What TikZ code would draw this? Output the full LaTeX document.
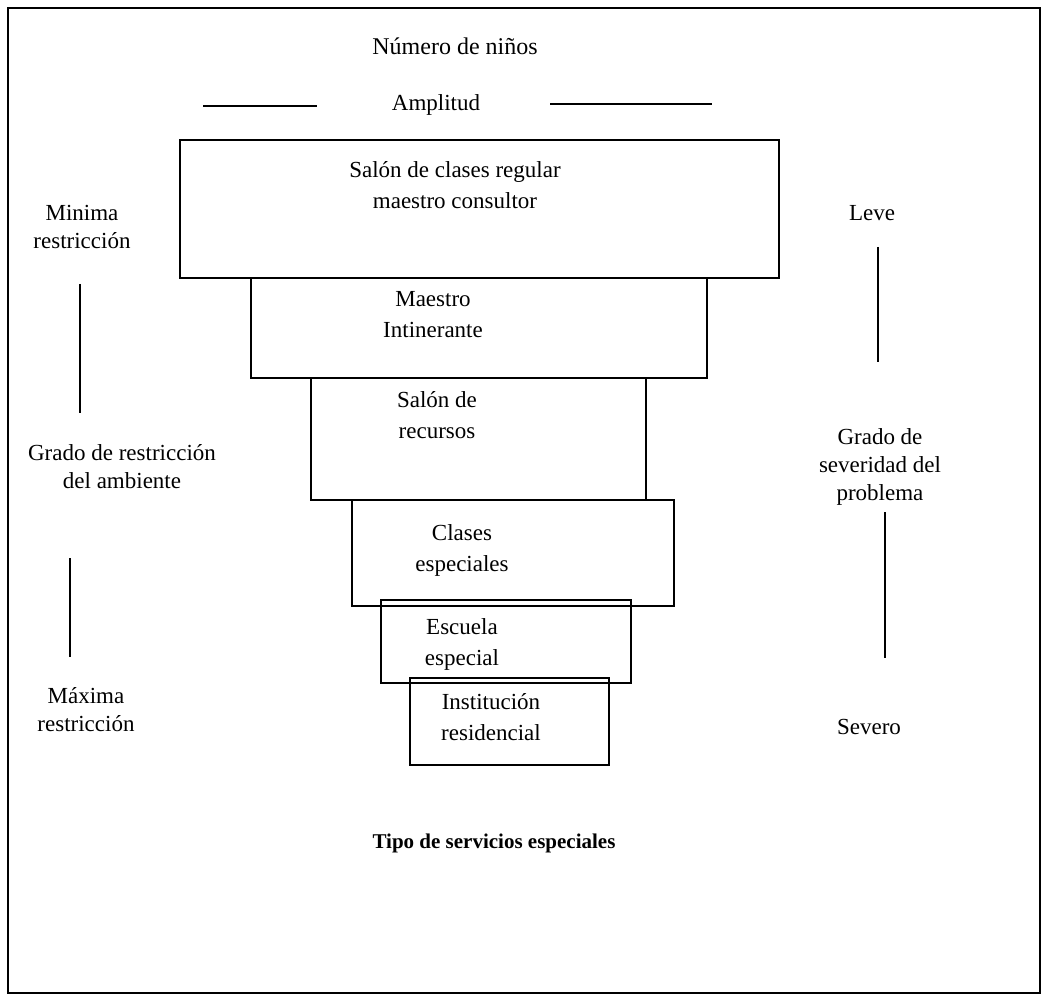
\documentclass[tikz,border=0pt]{standalone}
\usepackage{fontspec}
\setmainfont{Liberation Serif}
\begin{document}
\begin{tikzpicture}[x=1pt,y=-1pt,
  tier/.style={draw, line width=1.6pt, inner sep=0pt},
  boxtext/.style={align=center, inner sep=0pt, font=\fontsize{23}{31}\selectfont},
  sidetext/.style={align=center, inner sep=0pt, font=\fontsize{23}{28}\selectfont},
  rulestroke/.style={line width=1.6pt}]
\useasboundingbox (0,0) rectangle (1049,1000);
% outer frame
\draw[line width=2.6pt] (8,8) rectangle (1040,993);

% heading
\node[sidetext, font=\fontsize{24}{28}\selectfont] (ninos) at (455,46) {Número de niños};
\node[sidetext] (amplitud) at (436,105) {Amplitud};
\coordinate (al1) at (203,106); \coordinate (al2) at (317,106);
\coordinate (ar1) at (550,104); \coordinate (ar2) at (712,104);
\draw[rulestroke] (al1) -- (al2);
\draw[rulestroke] (ar1) -- (ar2);

% stacked tiers
\node[tier, minimum width=599pt, minimum height=138pt] (t1) at (479.5,209) {};
\node[tier, minimum width=456pt, minimum height=100pt] (t2) at (479,328) {};
\node[tier, minimum width=335pt, minimum height=122pt] (t3) at (478.5,439) {};
\node[tier, minimum width=322pt, minimum height=106pt] (t4) at (513,553) {};
\node[tier, minimum width=250pt, minimum height=83pt] (t5) at (506,641.5) {};
\node[tier, minimum width=199pt, minimum height=87pt] (t6) at (509.5,721.5) {};

\node[boxtext] (t1txt) at (455,185) {Salón de clases regular\\maestro consultor};
\node[boxtext] (t2txt) at (433,315) {Maestro\\Intinerante};
\node[boxtext] (t3txt) at (437,415) {Salón de\\recursos};
\node[boxtext] (t4txt) at (462,550) {Clases\\especiales};
\node[boxtext] (t5txt) at (462,644) {Escuela\\especial};
\node[boxtext] (t6txt) at (491,717) {Institución\\residencial};

% left scale
\node[sidetext] (minima) at (82,227) {Minima\\restricción};
\node[sidetext] (gradoamb) at (122,467) {Grado de restricción\\del ambiente};
\node[sidetext] (maxima) at (86,710) {Máxima\\restricción};
\coordinate (lu1) at (80,284); \coordinate (lu2) at (80,413);
\coordinate (ll1) at (70,558); \coordinate (ll2) at (70,657);
\draw[rulestroke] (lu1) -- (lu2);
\draw[rulestroke] (ll1) -- (ll2);

% right scale
\node[sidetext] (leve) at (872,213) {Leve};
\node[sidetext] (gradosev) at (880,467) {Grado de\\severidad del\\problema};
\node[sidetext] (severo) at (869,727) {Severo};
\coordinate (ru1) at (878,247); \coordinate (ru2) at (878,362);
\coordinate (rl1) at (885,512); \coordinate (rl2) at (885,658);
\draw[rulestroke] (ru1) -- (ru2);
\draw[rulestroke] (rl1) -- (rl2);

% caption
\node[inner sep=0pt, font=\fontsize{21}{25}\selectfont\bfseries] (caption) at (494,843) {Tipo de servicios especiales};
\end{tikzpicture}
\end{document}
